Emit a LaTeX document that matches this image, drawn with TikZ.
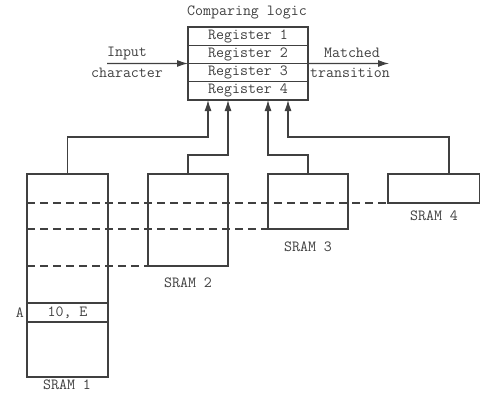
\documentclass[tikz,border=0pt]{standalone}
\usetikzlibrary{arrows.meta}
\definecolor{ln}{HTML}{404040}
\definecolor{tx}{HTML}{404040}
\begin{document}
\begin{tikzpicture}[x=1pt,y=-1pt,
  every node/.style={text=tx,font=\ttfamily\fontsize{15.5}{17}\selectfont},
  box/.style={draw=ln,line width=1.1pt,inner sep=0pt,outer sep=0pt},
  reg/.style={box,minimum width=120pt,minimum height=18.25pt},
  lbl/.style={inner sep=0pt},
  wire/.style={draw=ln,line width=1.1pt},
  arr/.style={wire,-{Latex[length=11pt,width=7pt]}},
  dsh/.style={draw=ln,line width=1.1pt,dash pattern=on 8pt off 5pt}]
\useasboundingbox (0,0) rectangle (481,394);
% comparing logic
\node[lbl] (cl) at (247,12) {Comparing logic};
\node[reg] (r1) at (248,36.1) {Register 1};
\node[reg,anchor=north] (r2) at (r1.south) {Register 2};
\node[reg,anchor=north] (r3) at (r2.south) {Register 3};
\node[reg,anchor=north] (r4) at (r3.south) {Register 4};
% input / output
\coordinate (in) at (107,63.5);
\coordinate (out) at (389,63.5);
\draw[arr] (in) -- (r2.south west);
\draw[arr] (r2.south east) -- (out);
\node[lbl] (i1) at (127,53) {Input};
\node[lbl] (i2) at (127,72.5) {character};
\node[lbl] (o1) at (352,53) {Matched};
\node[lbl] (o2) at (350,72.5) {transition};
% SRAMs
\node[box,anchor=north west,minimum width=81pt,minimum height=203pt] (s1) at (27,174) {};
\node[box,anchor=north west,minimum width=80pt,minimum height=92pt] (s2) at (148,174) {};
\node[box,anchor=north west,minimum width=80pt,minimum height=55pt] (s3) at (268,174) {};
\node[box,anchor=north west,minimum width=91.5pt,minimum height=29pt] (s4) at (388,174) {};
\node[box,anchor=north west,minimum width=81pt,minimum height=19pt] (e) at (27,303) {10, E};
\node[lbl,anchor=east] (a) at (24,312.5) {A};
\node[lbl] (l1) at (67,385) {SRAM 1};
\node[lbl] (l2) at (188,283) {SRAM 2};
\node[lbl] (l3) at (308,247) {SRAM 3};
\node[lbl] (l4) at (434,216) {SRAM 4};
% dashed lines
\draw[dsh] (27,203) -- (s4.south west);
\draw[dsh] (27,229) -- (s3.south west);
\draw[dsh] (27,266) -- (s2.south west);
% connectors
\coordinate (a1) at (208,100);
\coordinate (a2) at (228,100);
\coordinate (a3) at (268,100);
\coordinate (a4) at (288,100);
\coordinate (s4o) at (449,174);
\draw[arr] (s1.north) |- (208,137) -- (a1);
\draw[arr] (s2.north) |- (228,155) -- (a2);
\draw[arr] (s3.north) |- (268,155) -- (a3);
\draw[arr] (s4o) |- (288,137) -- (a4);
\end{tikzpicture}
\end{document}
